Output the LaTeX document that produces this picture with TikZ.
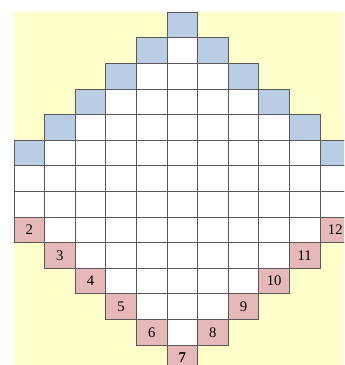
\documentclass[tikz,border=0pt]{standalone}
\usepackage{fontspec}
\setmainfont{Liberation Serif}
\definecolor{padyellow}{HTML}{FFFFCC}
\definecolor{topblue}{HTML}{B9CDE5}
\definecolor{lowpink}{HTML}{E6B9B8}
\tikzset{
  cell/.style={draw=black!65, line width=0.7pt},
  num/.style={font=\fontsize{11}{13}\selectfont, inner sep=0pt}
}
\begin{document}
\begin{tikzpicture}[x=22.95pt, y=-19.2pt]
  \useasboundingbox (-0.4575,-0.48) rectangle (10.784,13.777);
  \clip (-0.4575,-0.48) rectangle (10.784,13.777);
  \fill[white] (-0.4575,-0.48) rectangle (10.784,13.777);
  \fill[padyellow] (0,0) rectangle (10.784,13.777);
  % upper rows, blue edge
  \foreach \r in {0,...,5} {
    \pgfmathtruncatemacro{\lo}{5-\r}
    \pgfmathtruncatemacro{\hi}{5+\r}
    \foreach \c in {\lo,...,\hi}
      \draw[cell, fill=white] (\c,\r) rectangle ++(1,1);
    \draw[cell, fill=topblue] (\lo,\r) rectangle ++(1,1);
    \draw[cell, fill=topblue] (\hi,\r) rectangle ++(1,1);
  }
  % full rows
  \foreach \r in {6,7}
    \foreach \c in {0,...,10}
      \draw[cell, fill=white] (\c,\r) rectangle ++(1,1);
  % lower rows, pink edge with numbers
  \foreach \r in {8,...,13} {
    \pgfmathtruncatemacro{\lo}{\r-8}
    \pgfmathtruncatemacro{\hi}{18-\r}
    \pgfmathtruncatemacro{\nl}{\r-6}
    \pgfmathtruncatemacro{\nr}{20-\r}
    \foreach \c in {\lo,...,\hi}
      \draw[cell, fill=white] (\c,\r) rectangle ++(1,1);
    \draw[cell, fill=lowpink] (\lo,\r) rectangle ++(1,1);
    \draw[cell, fill=lowpink] (\hi,\r) rectangle ++(1,1);
    \node[num] (n\nl) at (\lo+0.5,\r+0.5) {\nl};
    \node[num] (n\nr) at (\hi+0.5,\r+0.5) {\nr};
  }
\end{tikzpicture}
\end{document}
